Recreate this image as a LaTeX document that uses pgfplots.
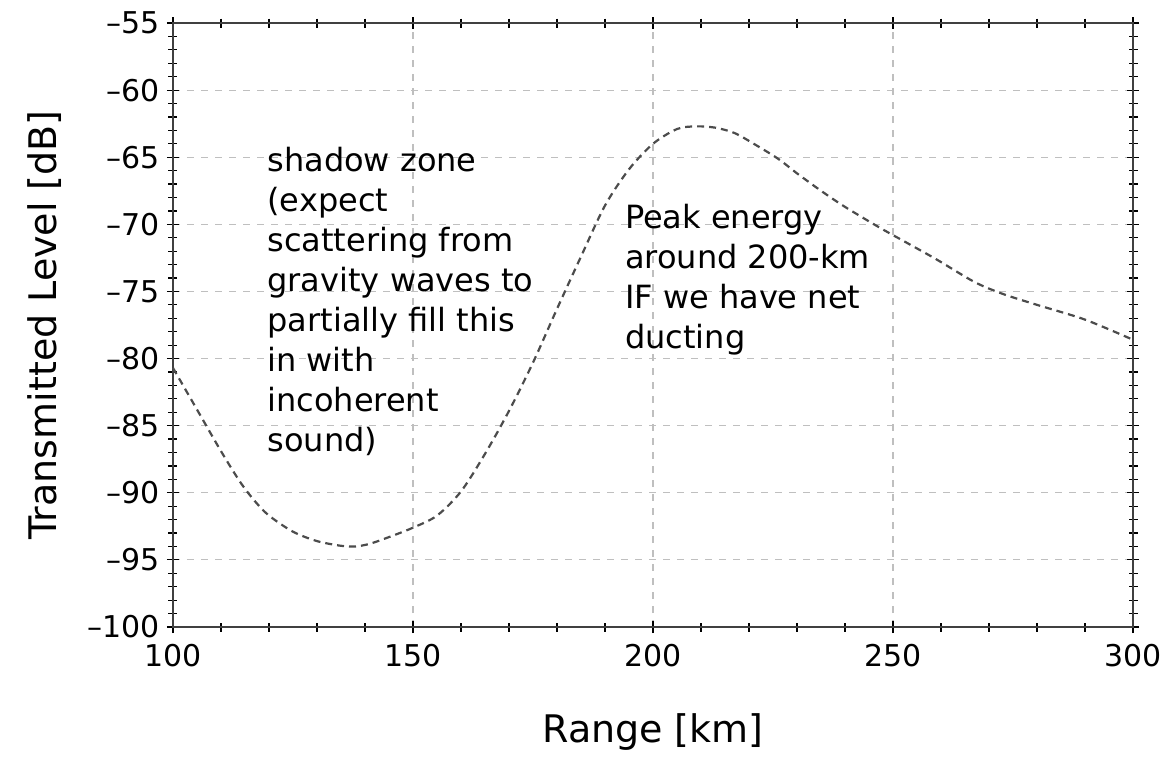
\documentclass[border=0pt]{standalone}
\usepackage{pgfplots}
\pgfplotsset{compat=1.18}
\usepackage{fontspec}
\setmainfont{DejaVu Sans}

% Transmission loss along range, read as (range km, level dB)
\pgfplotstableread{
x y
100 -80.7
105 -83.8
110 -86.9
114 -89.2
117 -90.6
120 -91.7
125 -92.9
130 -93.6
135 -93.95
138 -94.0
141 -93.8
145 -93.3
150 -92.6
155 -91.7
160 -89.9
165 -87.1
170 -83.9
175 -80.3
180 -76.3
185 -72.4
190 -68.6
195 -65.9
200 -64.0
205 -62.9
209 -62.7
213 -62.8
217 -63.2
221 -64.0
226 -65.1
230 -66.2
235 -67.5
240 -68.7
247 -70.2
253 -71.4
259 -72.6
267 -74.3
273 -75.2
280 -76.0
290 -77.1
300 -78.6
}\tldata

\begin{document}
\begin{tikzpicture}
\begin{axis}[
  name=ax,
  scale only axis, width=480pt, height=302pt,
  xmin=100, xmax=300, ymin=-100, ymax=-55,
  xtick={100,150,...,300},
  ytick={-100,-95,...,-55},
  yticklabels={–100,–95,–90,–85,–80,–75,–70,–65,–60,–55},
  minor x tick num=4, minor y tick num=4,
  tick align=center,
  major tick length=6pt, minor tick length=4.5pt,
  tick style={black, line width=0.6pt},
  axis line style={black!75, line width=0.8pt},
  grid=major,
  major grid style={black!25, dash pattern=on 3.5pt off 3.5pt, line width=0.6pt},
  /pgf/number format/assume math mode=true,
  ticklabel style={font=\fontsize{15}{16}\selectfont},
  xticklabel style={yshift=-2pt},
  yticklabel style={xshift=0pt},
  xlabel={Range [km]},
  ylabel={Transmitted Level [dB]},
  label style={font=\fontsize{19}{22}\selectfont},
  xlabel style={anchor=center, at={(axis description cs:0.5,-0.1738)}},
  ylabel style={anchor=center, at={(axis description cs:-0.1333,0.5)}},
  clip=false,
]
\addplot[black!70, line width=1.1pt, dash pattern=on 3.5pt off 2.5pt, smooth, tension=0.5]
  table[x=x, y=y] {\tldata};

\node[anchor=north west, align=left, inner sep=0pt, font=\fontsize{16}{20}\selectfont]
  at (axis cs:119.6,-64.2)
  {shadow zone\\(expect\\scattering from\\gravity waves to\\partially fill this\\in with\\incoherent\\sound)};
\node[anchor=north west, align=left, inner sep=0pt, font=\fontsize{16}{20}\selectfont]
  at (axis cs:194.1,-68.5)
  {Peak energy\\around 200-km\\IF we have net\\ducting};
\end{axis}
\pgfresetboundingbox
\path[use as bounding box]
  ([shift={(-86.5pt,-66pt)}]ax.south west) rectangle ([shift={(16pt,11.5pt)}]ax.north east);
\end{tikzpicture}
\end{document}
